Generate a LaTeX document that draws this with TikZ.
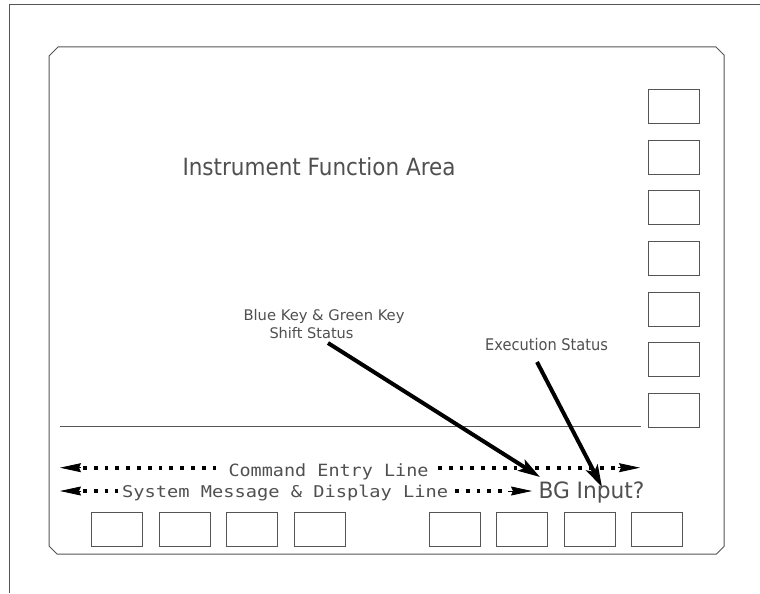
\documentclass[tikz,border=0pt]{standalone}
\usepackage{fontspec}
\setmainfont{DejaVu Sans}
\newfontfamily\monofont{DejaVu Sans Mono}
\usetikzlibrary{arrows.meta}
\definecolor{framegray}{HTML}{555555}
\definecolor{txtgray}{HTML}{505050}
\begin{document}
\begin{tikzpicture}[x=1pt,y=-1pt,
  frame/.style={draw=framegray, line width=1pt},
  key/.style={draw=framegray, line width=1pt, minimum width=51pt, minimum height=34pt, inner sep=0pt},
  dotline/.style={line width=3.8pt, dash pattern=on 3.8pt off 7pt, black},
  headarrow/.style={line width=0.8pt, black, -{Stealth[length=21pt,width=9pt,inset=2pt]}},
  callout/.style={line width=4pt, black, -{Stealth[length=22pt,width=13pt,inset=5pt]}},
  lbl/.style={inner sep=0pt, text=txtgray, anchor=base west}]
\useasboundingbox (0,0) rectangle (760,594);
\fill[white] (0,0) rectangle (760,594);
% outer frame
\draw[frame] (760,5) -- (9,5) -- (9,593);
% panel
\draw[frame] (58,47) -- (716,47) -- (724,55) -- (724,546.5) -- (716.5,554) -- (57,554) -- (49,546) -- (49,56) -- cycle;
% divider
\draw[frame] (60,426.5) -- (640.5,426.5);
% right softkeys
\foreach \i in {0,...,6}{
  \node[key] (r\i) at (674,106.3+50.7*\i) {};
}
% bottom keys
\foreach \i/\x in {1/116.7,2/184.5,3/252,4/319.7,5/454.7,6/521.8,7/589.5,8/657}{
  \node[key] (b\i) at (\x,529.5) {};
}
% labels
\node[lbl] (ifa) at (182.3,175) {\resizebox{273pt}{18pt}{Instrument Function Area}};
\node[lbl] (bk1) at (243.3,320.7) {\resizebox{161pt}{11.1pt}{Blue Key \& Green Key}};
\node[lbl] (bk2) at (269.3,338.3) {\resizebox{84pt}{11.1pt}{Shift Status}};
\node[lbl] (exs) at (485,350) {\resizebox{122.7pt}{12.2pt}{Execution Status}};
\node[lbl] (bgi) at (538.3,498.3) {\resizebox{106pt}{16.7pt}{BG Input?}};
\node[lbl] (cel) at (228.3,476) {\resizebox{200pt}{12.8pt}{\monofont Command Entry Line}};
\node[lbl] (sml) at (122,497.3) {\resizebox{326pt}{12.4pt}{\monofont System Message \& Display Line}};
% command entry line
\coordinate (c1a) at (81,467.7); \coordinate (c1t) at (60,467.7);
\coordinate (c1d) at (83,467.7); \coordinate (c1e) at (217,467.7);
\coordinate (c2d) at (438,467.7); \coordinate (c2e) at (616,467.7);
\coordinate (c2a) at (618,467.7); \coordinate (c2t) at (640,467.7);
\draw[headarrow] (c1a) -- (c1t);
\draw[dotline] (c1d) -- (c1e);
\draw[dotline] (c2d) -- (c2e);
\draw[headarrow] (c2a) -- (c2t);
% system message line
\coordinate (s1a) at (81,491); \coordinate (s1t) at (60,491);
\coordinate (s1d) at (83,491); \coordinate (s1e) at (118,491);
\coordinate (s2d) at (455,491); \coordinate (s2e) at (505,491);
\coordinate (s2a) at (508,491); \coordinate (s2t) at (532,491);
\draw[headarrow] (s1a) -- (s1t);
\draw[dotline] (s1d) -- (s1e);
\draw[dotline] (s2d) -- (s2e);
\draw[headarrow] (s2a) -- (s2t);
% callouts
\coordinate (bgs) at (328,343); \coordinate (bgt) at (540,477);
\coordinate (exst) at (537,362); \coordinate (ext) at (602,487);
\draw[callout] (bgs) -- (bgt);
\draw[callout] (exst) -- (ext);
\end{tikzpicture}
\end{document}
